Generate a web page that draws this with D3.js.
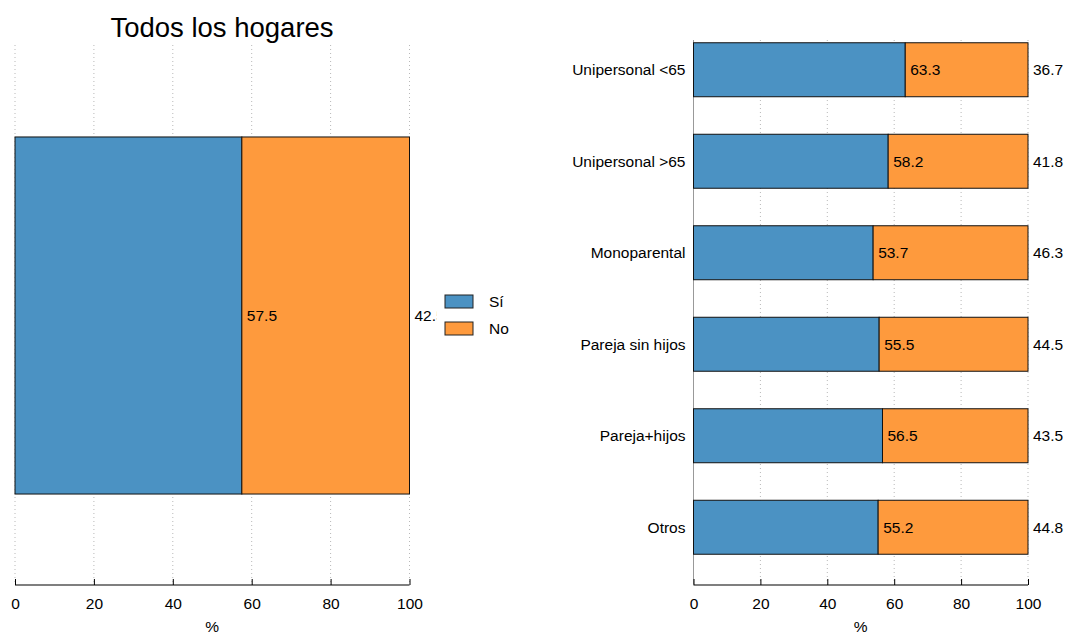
<!DOCTYPE html>
<html><head><meta charset="utf-8">
<script src="https://cdn.jsdelivr.net/npm/d3@7"></script>
<style>body{margin:0;background:#fff}svg{display:block;font-family:"Liberation Sans",Arial,Helvetica,sans-serif}</style>
</head><body><svg id="c" width="1066" height="634"></svg>
<script>
const totalLabel = ["Todos los hogares"];
const totalSi = [57.5];
const totalNo = [42.5];
const categories = ["Unipersonal <65","Unipersonal >65","Monoparental","Pareja sin hijos","Pareja+hijos","Otros"];
const siValues = [63.3,58.2,53.7,55.5,56.5,55.2];
const noValues = [36.7,41.8,46.3,44.5,43.5,44.8];
const xTicks = [0,20,40,60,80,100];
const legendLabels = ["Sí","No"];
const colors = {si:"#4b92c3", no:"#fe9a3d"};
const FS = 15.5;

const svg = d3.select("#c");

function panel(opts){
  const g = svg.append("g");
  const x = d3.scaleLinear().domain([0,100]).range([opts.x0,opts.x1]);
  const y = d3.scaleBand().domain(opts.cats).range([opts.y0,opts.y1]).paddingInner(opts.pad).paddingOuter(opts.pad/2);
  const clipId = "clip"+opts.id;
  svg.append("clipPath").attr("id",clipId).append("rect")
    .attr("x",opts.x0-5).attr("y",0).attr("width",opts.clipW).attr("height",634);
  g.selectAll(".grid").data(xTicks).join("line")
    .attr("x1",d=>x(d)).attr("x2",d=>x(d))
    .attr("y1",opts.gy0).attr("y2",opts.gy1)
    .attr("stroke","#b8b8b8").attr("stroke-width",1).attr("stroke-dasharray","1,3");
  if(opts.yLine){
    g.append("line").attr("x1",x(0)).attr("x2",x(0)).attr("y1",opts.gy0).attr("y2",opts.gy1+2)
      .attr("stroke","#999").attr("stroke-width",1);
  }
  const rows = opts.cats.map((c,i)=>({c, si:opts.si[i], no:opts.no[i]}));
  const bars = g.append("g");
  bars.selectAll(".si").data(rows).join("rect")
    .attr("x",x(0)).attr("y",d=>y(d.c)).attr("width",d=>x(d.si)-x(0)).attr("height",y.bandwidth())
    .attr("fill",colors.si).attr("stroke","#111").attr("stroke-width",1);
  bars.selectAll(".no").data(rows).join("rect")
    .attr("x",d=>x(d.si)).attr("y",d=>y(d.c)).attr("width",d=>x(d.si+d.no)-x(d.si)).attr("height",y.bandwidth())
    .attr("fill",colors.no).attr("stroke","#111").attr("stroke-width",1);
  const labs = g.append("g").attr("clip-path",`url(#${clipId})`).attr("font-size",FS).attr("fill","#000");
  labs.selectAll(".ls").data(rows).join("text")
    .attr("x",d=>x(d.si)+5).attr("y",d=>y(d.c)+y.bandwidth()/2).attr("dy","0.35em").text(d=>d.si.toFixed(1));
  labs.selectAll(".ln").data(rows).join("text")
    .attr("x",d=>x(d.si+d.no)+5).attr("y",d=>y(d.c)+y.bandwidth()/2).attr("dy","0.35em").text(d=>d.no.toFixed(1));
  if(opts.showCats){
    g.selectAll(".cat").data(rows).join("text")
      .attr("x",x(0)-8).attr("y",d=>y(d.c)+y.bandwidth()/2).attr("dy","0.35em")
      .attr("text-anchor","end").attr("font-size",FS).text(d=>d.c);
  }
  const ax = g.append("g").attr("transform",`translate(0,${opts.axisY})`)
    .call(d3.axisBottom(x).tickValues(xTicks).tickSize(6).tickSizeOuter(0).tickPadding(4));
  ax.select(".domain").attr("stroke","#000").attr("stroke-width",1.2).attr("d",`M${x(0)},0H${x(100)}`);
  ax.selectAll(".tick line").attr("stroke","#000").attr("y1",-6).attr("y2",0);
  ax.selectAll(".tick text").attr("font-size",FS).attr("fill","#000").attr("font-family","Liberation Sans, Arial, sans-serif").attr("dy","0.9em");
  g.append("text").attr("x",(x(0)+x(100))/2).attr("y",opts.axisY+47).attr("text-anchor","middle")
    .attr("font-size",FS).text("%");
  return {x,y};
}

panel({id:"L", cats:totalLabel, si:totalSi, no:totalNo, x0:15, x1:409.5, y0:45, y1:586, pad:0.34,
  gy0:45, gy1:582, axisY:585, clipW:426.5, yLine:false, showCats:false});
panel({id:"R", cats:categories, si:siValues, no:noValues, x0:693.5, x1:1028, y0:24, y1:573, pad:0.41,
  gy0:40, gy1:582, axisY:585, clipW:380, yLine:true, showCats:true});

svg.append("text").attr("x",222).attr("y",37).attr("text-anchor","middle").attr("font-size",27.5).text(totalLabel[0]);

const leg = svg.append("g");
legendLabels.forEach((l,i)=>{
  leg.append("rect").attr("x",445).attr("y",295+i*27).attr("width",28).attr("height",13)
    .attr("fill",i?colors.no:colors.si).attr("stroke","#222").attr("stroke-width",1);
  leg.append("text").attr("x",489).attr("y",302+i*27).attr("dy","0.35em").attr("font-size",FS).text(l);
});
</script></body></html>
